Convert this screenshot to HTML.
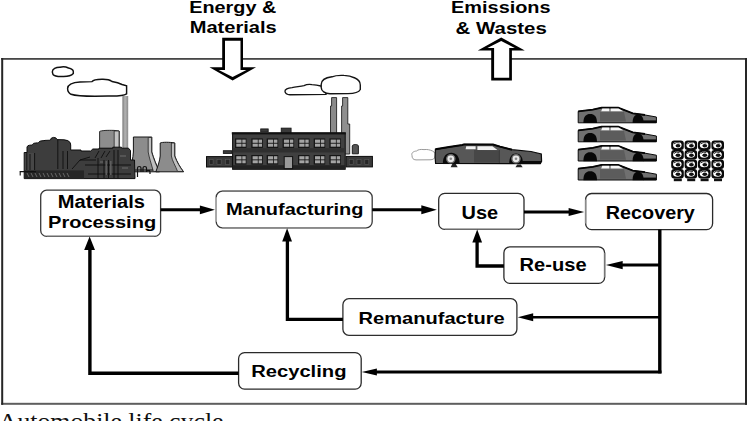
<!DOCTYPE html>
<html><head><meta charset="utf-8"><style>
html,body{margin:0;padding:0;background:#fff;width:748px;height:421px;overflow:hidden}
svg{display:block}

</style></head><body>
<svg width="748" height="421" viewBox="0 0 748 421">
<rect width="748" height="421" fill="#fff"/>
<rect x="1.2" y="58" width="745.8" height="1.8" fill="#474747"/><rect x="1.2" y="402.8" width="745.8" height="2" fill="#5e5e5e"/><rect x="1.2" y="58" width="2" height="346.8" fill="#262626"/><rect x="745" y="58" width="2" height="346.8" fill="#262626"/>
<!-- background tint regions -->
<!-- ===== industrial plant ===== -->
<g id="plant">
<path d="M52.3,72 C52.3,69 56,67.2 60,67.3 C62,66.6 66,66.8 68.5,68 C71,68.6 73.3,69.6 73.3,71.4 L73.3,73.5 C71.5,75.5 68,76.6 63,76.5 C58,76.7 54.2,76 53,74.5 Z" fill="#fff" stroke="#111" stroke-width="1.45"/>
<path d="M67.6,88.5 C67.8,84.8 73,82.4 80,82 L92,81.6 C93.5,79.5 98,79.2 103,79.3 C108,79.3 110,80 112,81.5 C116,82.2 120,83.5 122,84.5 L126.6,85.8 L126.6,93.8 C124,95.6 116,96.2 108,96 L95,96.3 C84,96.3 76,96 71,94.3 C68.5,93 67.6,91 67.6,88.5 Z" fill="#fff" stroke="#111" stroke-width="1.45"/>
<!-- chimney -->
<defs><linearGradient id="chg" x1="0" x2="1" y1="0" y2="0"><stop offset="0" stop-color="#777"/><stop offset="0.45" stop-color="#b4b4b4"/><stop offset="1" stop-color="#8a8a8a"/></linearGradient></defs>
<rect x="122.4" y="96" width="5.8" height="54" fill="url(#chg)"/>
<!-- cooling tower 1 (behind) -->
<path d="M99.6,131.5 C101,130.4 108,130.2 114,130.4 L119.2,131 L119.2,149 L99.6,149 Z" fill="#8d8d8d" stroke="#1a1a1a" stroke-width="0.9"/>
<path d="M114.2,131 L119,131 L119,149 L114.2,149 Z" fill="#c4c4c4" stroke="#1a1a1a" stroke-width="0.7"/>
<!-- cooling towers 2,3 -->
<path d="M133.4,137 L151.8,137 L151.8,152 C153.5,158 156.5,165 159.5,171.8 L129.6,171.8 C131.5,165 133,158 133.4,152 Z" fill="#8c8c8c" stroke="#141414" stroke-width="1"/>
<path d="M148.2,137.5 L151.6,137.5 L151.6,152 C153.3,158 156.2,165 159,171.5 L153.4,171.5 C151.3,164 149,157 148.2,152 Z" fill="#c0c0c0" stroke="#222" stroke-width="0.8"/>
<path d="M160.2,143 C162,142 170,142 174.8,143 L174.8,156 C177,162 180,167 183.6,171.8 L155.9,171.8 C157.5,167 159.8,161 160.2,156 Z" fill="#8c8c8c" stroke="#141414" stroke-width="1"/>
<path d="M171.4,143 L174.6,143 L174.6,156 C176.8,162 179.8,167 183.2,171.5 L177.6,171.5 C175.6,166 172.2,161 171.4,156 Z" fill="#c0c0c0" stroke="#222" stroke-width="0.8"/>
<!-- dark mass -->
<path d="M24.2,178.6 L24.2,152.5 L27,152.5 L27,147 Q27.5,145.2 29.8,145.2 Q32,145.2 32.5,144.6 Q33,143 35.5,143 Q38,143 38.7,142.4 Q39.5,140.8 42,140.8 Q44.5,140.6 45,140.4 L50.4,140.2 Q50.6,137.5 53.6,137.4 Q56.6,137.4 57,139.6 L64,139.8 Q68.5,140 70.2,142.6 L70.7,145 L70.7,150 L81,150 L81,151 L90.7,151 L92.8,149 L99,149 L99,148.2 L112.8,148.2 L112.8,147.2 L121.4,147.2 L121.4,148.2 L128.5,148.2 L130.5,150.5 L130.5,160 L134.5,160 L135,178.6 Z" fill="#3d3d3d" stroke="#0c0c0c" stroke-width="1"/>
<rect x="24.8" y="153" width="9.8" height="17" fill="#474747"/>
<!-- conveyor base -->
<rect x="24" y="170.4" width="60" height="8.4" fill="#262626"/>
<path d="M19.6,171.6 L36,171.6 M20.2,171.6 L20.2,175.5" stroke="#111" stroke-width="1.1" fill="none"/>
<path d="M27,173 l2,4 M31,173 l2,4 M35,173 l2,4 M39,173 l2,4 M43,173 l2,4 M47,173 l2,4 M51,173 l2,4 M55,173 l2,4 M59,173 l2,4 M63,173 l2,4 M67,173 l2,4" stroke="#777" stroke-width="0.8"/>
<!-- structure detail lines -->
<path d="M26.8,153 L26.8,170 M34.6,153 L34.6,170 M30,154 L30,170 M57.8,140 L57.8,169 M63,151 L63,169 M67.5,151 L67.5,169 M72,169 L80,160 L90,157 M80,160 L96,160 M98,158 L98,178 M104,160 L104,178 M108.5,160 L108.5,178 M114,150 L114,178 M118,150 L118,178 M85,165 L131,165 M88,174 L131,174 M95,158 L99,151 M101,158 L105,151 M106,157 L110,151" stroke="#0e0e0e" stroke-width="0.9" fill="none"/>
<path d="M106.3,161 v14 M110.8,161 v14 M100,162 h3 M120,156 h6 M122,168 h6" stroke="#5e5e5e" stroke-width="1.6" fill="none"/>
<path d="M137.5,177 L137.5,168 C137.5,166 141,166 141,168 L141,172 M143,172 L143,168 C143,166 146.5,166 146.5,168 L146.5,172 C146.5,170 150,170 150,172 L150,174 M135,170 L153,170" stroke="#111" stroke-width="1.2" fill="none"/>
</g>
<!-- ===== factory ===== -->
<g id="factory">
<!-- clouds -->
<path d="M285,91.5 C284.5,89 288,88 292,87.6 C296,87 300,86.2 304,85.6 C306,84.6 309,84.2 312,84.6 C316,84.8 319,85.5 322,86.2 L326,88 L326,94.4 L290,94.8 C287,94.6 285.2,93.4 285,91.5 Z" fill="#fff" stroke="#151515" stroke-width="1.4"/>
<path d="M321.2,84.5 C321.2,80 326,77.6 332,76.8 C335,75.5 340,75.2 344,75.4 C349,75.4 352,76.5 355,78 C358.5,79.5 360.3,82 360.3,85 L360.3,89.5 C359,92 355,93.6 348,93.6 L330,93.8 C325,93.6 321.2,91 321.2,87.5 Z" fill="#fff" stroke="#151515" stroke-width="1.4"/>
<!-- chimneys -->
<path d="M331.6,97.6 L336.6,97.6 L336.6,134 L330.5,134 L330.5,106 L331.6,106 Z" fill="#8a8a8a" stroke="#222" stroke-width="0.9"/>
<path d="M342.6,97.6 L347.8,97.6 L347.8,124 L349.7,124 L349.7,154 L341.6,154 L341.6,106 L342.6,106 Z" fill="#8f8f8f" stroke="#222" stroke-width="0.9"/>
<!-- roof blocks -->
<rect x="260.7" y="128.9" width="7.5" height="3" fill="#3a3a3a" stroke="#111" stroke-width="0.8"/>
<rect x="281.2" y="128.1" width="9.9" height="5.5" fill="#3a3a3a" stroke="#111" stroke-width="0.8"/>
<rect x="223.3" y="150.7" width="8.3" height="2.8" fill="#3a3a3a" stroke="#111" stroke-width="0.8"/>
<path d="M352.3,153.8 L352.3,146 C352.3,144 358.4,144 358.4,146 L358.4,153.8 Z" fill="#555" stroke="#111" stroke-width="0.9"/>
<!-- wings -->
<rect x="206.5" y="156.6" width="26.5" height="10.4" fill="#3a3a3a" stroke="#0c0c0c" stroke-width="1"/>
<rect x="346" y="156.4" width="26.4" height="10.5" fill="#3a3a3a" stroke="#0c0c0c" stroke-width="1"/>
<g fill="#262626" stroke="#5a5a5a" stroke-width="0.6">
<rect x="209.3" y="159.3" width="3.8" height="5"/><rect x="217" y="159.3" width="4.2" height="5"/><rect x="225.6" y="159.3" width="4.2" height="5"/>
<rect x="349.2" y="159.3" width="4" height="5"/><rect x="357" y="159.3" width="4" height="5"/><rect x="364.8" y="159.3" width="4" height="5"/>
</g>
<!-- main building -->
<rect x="232.6" y="133.3" width="112.6" height="36" fill="#404040" stroke="#0c0c0c" stroke-width="1"/>
<rect x="231.8" y="132.2" width="114" height="2.2" fill="#111"/>
<rect x="232.6" y="148.2" width="112.6" height="4.2" fill="#2f2f2f"/>
<rect x="232.6" y="165.2" width="112.6" height="3.8" fill="#222"/>
<!-- windows -->
<g id="win">
<rect x="235.0" y="138.4" width="11.5" height="9.6" fill="#161616"/>
<rect x="236.30" y="139.60" width="5.20" height="3.20" fill="#a4a4a4"/>
<rect x="236.30" y="143.70" width="5.20" height="3.00" fill="#a4a4a4"/>
<rect x="242.30" y="139.60" width="3.40" height="3.20" fill="#a4a4a4"/>
<rect x="242.30" y="143.70" width="3.40" height="3.00" fill="#a4a4a4"/>
<rect x="251.3" y="138.4" width="11.5" height="9.6" fill="#161616"/>
<rect x="252.60" y="139.60" width="5.20" height="3.20" fill="#a4a4a4"/>
<rect x="252.60" y="143.70" width="5.20" height="3.00" fill="#a4a4a4"/>
<rect x="258.60" y="139.60" width="3.40" height="3.20" fill="#a4a4a4"/>
<rect x="258.60" y="143.70" width="3.40" height="3.00" fill="#a4a4a4"/>
<rect x="266.7" y="138.4" width="11.5" height="9.6" fill="#161616"/>
<rect x="268.00" y="139.60" width="5.20" height="3.20" fill="#a4a4a4"/>
<rect x="268.00" y="143.70" width="5.20" height="3.00" fill="#a4a4a4"/>
<rect x="274.00" y="139.60" width="3.40" height="3.20" fill="#a4a4a4"/>
<rect x="274.00" y="143.70" width="3.40" height="3.00" fill="#a4a4a4"/>
<rect x="282.6" y="138.4" width="11.5" height="9.6" fill="#161616"/>
<rect x="283.90" y="139.60" width="5.20" height="3.20" fill="#a4a4a4"/>
<rect x="283.90" y="143.70" width="5.20" height="3.00" fill="#a4a4a4"/>
<rect x="289.90" y="139.60" width="3.40" height="3.20" fill="#a4a4a4"/>
<rect x="289.90" y="143.70" width="3.40" height="3.00" fill="#a4a4a4"/>
<rect x="298.0" y="138.4" width="11.5" height="9.6" fill="#161616"/>
<rect x="299.30" y="139.60" width="5.20" height="3.20" fill="#a4a4a4"/>
<rect x="299.30" y="143.70" width="5.20" height="3.00" fill="#a4a4a4"/>
<rect x="305.30" y="139.60" width="3.40" height="3.20" fill="#a4a4a4"/>
<rect x="305.30" y="143.70" width="3.40" height="3.00" fill="#a4a4a4"/>
<rect x="313.7" y="138.4" width="11.5" height="9.6" fill="#161616"/>
<rect x="315.00" y="139.60" width="5.20" height="3.20" fill="#a4a4a4"/>
<rect x="315.00" y="143.70" width="5.20" height="3.00" fill="#a4a4a4"/>
<rect x="321.00" y="139.60" width="3.40" height="3.20" fill="#a4a4a4"/>
<rect x="321.00" y="143.70" width="3.40" height="3.00" fill="#a4a4a4"/>
<rect x="329.4" y="138.4" width="11.5" height="9.6" fill="#161616"/>
<rect x="330.70" y="139.60" width="5.20" height="3.20" fill="#a4a4a4"/>
<rect x="330.70" y="143.70" width="5.20" height="3.00" fill="#a4a4a4"/>
<rect x="336.70" y="139.60" width="3.40" height="3.20" fill="#a4a4a4"/>
<rect x="336.70" y="143.70" width="3.40" height="3.00" fill="#a4a4a4"/>
<rect x="235.0" y="155.0" width="11.5" height="9.6" fill="#161616"/>
<rect x="236.30" y="156.20" width="5.20" height="3.20" fill="#a4a4a4"/>
<rect x="236.30" y="160.30" width="5.20" height="3.00" fill="#a4a4a4"/>
<rect x="242.30" y="156.20" width="3.40" height="3.20" fill="#a4a4a4"/>
<rect x="242.30" y="160.30" width="3.40" height="3.00" fill="#a4a4a4"/>
<rect x="251.3" y="155.0" width="11.5" height="9.6" fill="#161616"/>
<rect x="252.60" y="156.20" width="5.20" height="3.20" fill="#a4a4a4"/>
<rect x="252.60" y="160.30" width="5.20" height="3.00" fill="#a4a4a4"/>
<rect x="258.60" y="156.20" width="3.40" height="3.20" fill="#a4a4a4"/>
<rect x="258.60" y="160.30" width="3.40" height="3.00" fill="#a4a4a4"/>
<rect x="266.7" y="155.0" width="11.5" height="9.6" fill="#161616"/>
<rect x="268.00" y="156.20" width="5.20" height="3.20" fill="#a4a4a4"/>
<rect x="268.00" y="160.30" width="5.20" height="3.00" fill="#a4a4a4"/>
<rect x="274.00" y="156.20" width="3.40" height="3.20" fill="#a4a4a4"/>
<rect x="274.00" y="160.30" width="3.40" height="3.00" fill="#a4a4a4"/>
<rect x="284.2" y="156.6" width="8.4" height="12" fill="#9a9a9a" stroke="#111" stroke-width="1"/>
<rect x="298.0" y="155.0" width="11.5" height="9.6" fill="#161616"/>
<rect x="299.30" y="156.20" width="5.20" height="3.20" fill="#a4a4a4"/>
<rect x="299.30" y="160.30" width="5.20" height="3.00" fill="#a4a4a4"/>
<rect x="305.30" y="156.20" width="3.40" height="3.20" fill="#a4a4a4"/>
<rect x="305.30" y="160.30" width="3.40" height="3.00" fill="#a4a4a4"/>
<rect x="313.7" y="155.0" width="11.5" height="9.6" fill="#161616"/>
<rect x="315.00" y="156.20" width="5.20" height="3.20" fill="#a4a4a4"/>
<rect x="315.00" y="160.30" width="5.20" height="3.00" fill="#a4a4a4"/>
<rect x="321.00" y="156.20" width="3.40" height="3.20" fill="#a4a4a4"/>
<rect x="321.00" y="160.30" width="3.40" height="3.00" fill="#a4a4a4"/>
<rect x="329.4" y="155.0" width="11.5" height="9.6" fill="#161616"/>
<rect x="330.70" y="156.20" width="5.20" height="3.20" fill="#a4a4a4"/>
<rect x="330.70" y="160.30" width="5.20" height="3.00" fill="#a4a4a4"/>
<rect x="336.70" y="156.20" width="3.40" height="3.20" fill="#a4a4a4"/>
<rect x="336.70" y="160.30" width="3.40" height="3.00" fill="#a4a4a4"/>
</g>
</g>
<!-- ===== car (use) ===== -->
<g id="car">
<path d="M412,155.5 C411,153 413.5,151.2 416.5,151 C418,149.5 421,149.2 424,149.6 C427,149.2 430,149.8 432.5,151 C435,152 435.5,154.5 435,156.5 C435,158.6 433,159.8 430,159.8 L416,159.9 C413,159.8 412,158 412,155.5 Z" fill="#fff" stroke="#9a9a9a" stroke-width="1"/>
<path d="M435.4,149.3 L449,147.1 L462.3,145 L464,144.4 L493,144.5 L500,146.6 L512,149.7 L531,151.5 L541.3,153.9 L541.6,161.4 L540.3,163.6 L435.6,163.5 L435.1,157 Z" fill="#575757" stroke="#0a0a0a" stroke-width="1.2"/>
<path d="M474,150 L499,150.5 L499,162.5 L474,162.5 Z" fill="#474747"/>
<path d="M435.4,149.3 L449,147.1 L462.3,145 L464,144.4 L493,144.5 L500,146.6 L512,149.7" fill="none" stroke="#050505" stroke-width="2"/>
<path d="M466.2,146.3 L475.6,146.3 L475.6,149.3 L465.6,149.3 Z" fill="#f2f2f2"/>
<path d="M477.4,146.2 L492.4,146.2 L497.4,150 L477.4,150 Z" fill="#f2f2f2"/>
<path d="M442.8,164 C442.8,156 446.5,152.8 451.3,152.8 C456,152.8 459.6,156 459.6,164 Z" fill="#0a0a0a"/>
<path d="M509.2,164 C509.2,156.5 512,153.6 516,153.6 C520,153.6 522.9,156.5 522.9,164 Z" fill="#0a0a0a"/>
<rect x="520" y="161" width="21" height="3" fill="#0a0a0a"/>
<circle cx="450.8" cy="158.8" r="4.1" fill="#e8e8e8" stroke="#6a6a6a" stroke-width="1.4"/>
<circle cx="450.8" cy="158.8" r="1.3" fill="#888"/>
<circle cx="516" cy="158.8" r="4.1" fill="#e8e8e8" stroke="#6a6a6a" stroke-width="1.4"/>
<circle cx="516" cy="158.8" r="1.3" fill="#888"/>
<path d="M450.6,167.3 L452.3,164 L455.8,164 L457.7,167.3 Z" fill="#222"/>
<path d="M515.5,167.3 L517.2,164.4 L520.8,164.4 L522.7,167.3 Z" fill="#222"/>
<line x1="499.4" y1="150" x2="499.4" y2="163" stroke="#333" stroke-width="0.8"/>
</g>
<!-- ===== stacked cars ===== -->
<defs>
<g id="scar">
<path d="M578.2,111.4 L592.8,109.6 L601.6,107.7 L618.2,107.7 L632.8,113.4 L645,115 L656.4,117 L656.4,122.8 L578.2,122.8 Z" fill="#707070" stroke="#0a0a0a" stroke-width="1"/>
<path d="M600,112 L624,112 L626,121.5 L600,121.5 Z" fill="#5c5c5c"/>
<path d="M578.2,111.4 L592.8,109.6 L601.6,107.7 L618.2,107.7 L632.8,113.4 L645,115" fill="none" stroke="#050505" stroke-width="1.8"/>
<path d="M602.3,108.6 L609.3,108.6 L609.3,111.3 L601.2,111.3 Z" fill="#f6f6f6"/>
<path d="M610.6,108.6 L618.6,108.6 L623.2,111.3 L610.6,111.3 Z" fill="#f6f6f6"/>
<path d="M583.4,123 C583.4,116.5 586,114 590.2,114 C594.4,114 597,116.5 597,123 Z" fill="#080808"/>
<path d="M632.6,123 C632.6,117 635,114.6 638.1,114.6 C641.2,114.6 643.6,117 643.6,123 Z" fill="#080808"/>
<rect x="643" y="120.4" width="13.4" height="2.6" fill="#080808"/>
</g>
</defs>
<use href="#scar"/>
<use href="#scar" transform="translate(0,19)"/>
<use href="#scar" transform="translate(0,38.2)"/>
<use href="#scar" transform="translate(0,57.2)"/>
<!-- ===== crushed cubes ===== -->
<g id="cubes">
<rect x="671.2" y="140.6" width="12.6" height="9.3" rx="3" fill="#0a0a0a"/>
<ellipse cx="677.3" cy="145.1" rx="4.3" ry="3.2" fill="#ffffff"/>
<ellipse cx="678.0" cy="145.8" rx="2.4" ry="1.7" fill="#111"/>
<path d="M673.8,144.0 l2.5,-1.4 l3.2,0.4" fill="none" stroke="#111" stroke-width="0.9"/>
<rect x="684.6" y="140.6" width="12.6" height="9.3" rx="3" fill="#0a0a0a"/>
<ellipse cx="690.7" cy="145.1" rx="4.3" ry="3.2" fill="#ffffff"/>
<ellipse cx="691.4" cy="145.8" rx="2.4" ry="1.7" fill="#111"/>
<path d="M687.2,144.0 l2.5,-1.4 l3.2,0.4" fill="none" stroke="#111" stroke-width="0.9"/>
<rect x="698.0" y="140.6" width="12.6" height="9.3" rx="3" fill="#0a0a0a"/>
<ellipse cx="704.1" cy="145.1" rx="4.3" ry="3.2" fill="#ffffff"/>
<ellipse cx="704.8" cy="145.8" rx="2.4" ry="1.7" fill="#111"/>
<path d="M700.6,144.0 l2.5,-1.4 l3.2,0.4" fill="none" stroke="#111" stroke-width="0.9"/>
<rect x="711.4" y="140.6" width="12.6" height="9.3" rx="3" fill="#0a0a0a"/>
<ellipse cx="717.5" cy="145.1" rx="4.3" ry="3.2" fill="#ffffff"/>
<ellipse cx="718.2" cy="145.8" rx="2.4" ry="1.7" fill="#111"/>
<path d="M714.0,144.0 l2.5,-1.4 l3.2,0.4" fill="none" stroke="#111" stroke-width="0.9"/>
<rect x="671.2" y="150.1" width="12.6" height="9.3" rx="3" fill="#0a0a0a"/>
<ellipse cx="677.3" cy="154.6" rx="4.3" ry="3.2" fill="#ffffff"/>
<ellipse cx="678.0" cy="155.3" rx="2.4" ry="1.7" fill="#111"/>
<path d="M673.8,153.5 l2.5,-1.4 l3.2,0.4" fill="none" stroke="#111" stroke-width="0.9"/>
<rect x="684.6" y="150.1" width="12.6" height="9.3" rx="3" fill="#0a0a0a"/>
<ellipse cx="690.7" cy="154.6" rx="4.3" ry="3.2" fill="#ffffff"/>
<ellipse cx="691.4" cy="155.3" rx="2.4" ry="1.7" fill="#111"/>
<path d="M687.2,153.5 l2.5,-1.4 l3.2,0.4" fill="none" stroke="#111" stroke-width="0.9"/>
<rect x="698.0" y="150.1" width="12.6" height="9.3" rx="3" fill="#0a0a0a"/>
<ellipse cx="704.1" cy="154.6" rx="4.3" ry="3.2" fill="#ffffff"/>
<ellipse cx="704.8" cy="155.3" rx="2.4" ry="1.7" fill="#111"/>
<path d="M700.6,153.5 l2.5,-1.4 l3.2,0.4" fill="none" stroke="#111" stroke-width="0.9"/>
<rect x="711.4" y="150.1" width="12.6" height="9.3" rx="3" fill="#0a0a0a"/>
<ellipse cx="717.5" cy="154.6" rx="4.3" ry="3.2" fill="#ffffff"/>
<ellipse cx="718.2" cy="155.3" rx="2.4" ry="1.7" fill="#111"/>
<path d="M714.0,153.5 l2.5,-1.4 l3.2,0.4" fill="none" stroke="#111" stroke-width="0.9"/>
<rect x="671.2" y="159.6" width="12.6" height="9.3" rx="3" fill="#0a0a0a"/>
<ellipse cx="677.3" cy="164.1" rx="4.3" ry="3.2" fill="#ffffff"/>
<ellipse cx="678.0" cy="164.8" rx="2.4" ry="1.7" fill="#111"/>
<path d="M673.8,163.0 l2.5,-1.4 l3.2,0.4" fill="none" stroke="#111" stroke-width="0.9"/>
<rect x="684.6" y="159.6" width="12.6" height="9.3" rx="3" fill="#0a0a0a"/>
<ellipse cx="690.7" cy="164.1" rx="4.3" ry="3.2" fill="#ffffff"/>
<ellipse cx="691.4" cy="164.8" rx="2.4" ry="1.7" fill="#111"/>
<path d="M687.2,163.0 l2.5,-1.4 l3.2,0.4" fill="none" stroke="#111" stroke-width="0.9"/>
<rect x="698.0" y="159.6" width="12.6" height="9.3" rx="3" fill="#0a0a0a"/>
<ellipse cx="704.1" cy="164.1" rx="4.3" ry="3.2" fill="#ffffff"/>
<ellipse cx="704.8" cy="164.8" rx="2.4" ry="1.7" fill="#111"/>
<path d="M700.6,163.0 l2.5,-1.4 l3.2,0.4" fill="none" stroke="#111" stroke-width="0.9"/>
<rect x="711.4" y="159.6" width="12.6" height="9.3" rx="3" fill="#0a0a0a"/>
<ellipse cx="717.5" cy="164.1" rx="4.3" ry="3.2" fill="#ffffff"/>
<ellipse cx="718.2" cy="164.8" rx="2.4" ry="1.7" fill="#111"/>
<path d="M714.0,163.0 l2.5,-1.4 l3.2,0.4" fill="none" stroke="#111" stroke-width="0.9"/>
<rect x="671.2" y="169.1" width="12.6" height="9.3" rx="3" fill="#0a0a0a"/>
<ellipse cx="677.3" cy="173.6" rx="4.3" ry="3.2" fill="#ffffff"/>
<ellipse cx="678.0" cy="174.3" rx="2.4" ry="1.7" fill="#111"/>
<path d="M673.8,172.5 l2.5,-1.4 l3.2,0.4" fill="none" stroke="#111" stroke-width="0.9"/>
<rect x="684.6" y="169.1" width="12.6" height="9.3" rx="3" fill="#0a0a0a"/>
<ellipse cx="690.7" cy="173.6" rx="4.3" ry="3.2" fill="#ffffff"/>
<ellipse cx="691.4" cy="174.3" rx="2.4" ry="1.7" fill="#111"/>
<path d="M687.2,172.5 l2.5,-1.4 l3.2,0.4" fill="none" stroke="#111" stroke-width="0.9"/>
<rect x="698.0" y="169.1" width="12.6" height="9.3" rx="3" fill="#0a0a0a"/>
<ellipse cx="704.1" cy="173.6" rx="4.3" ry="3.2" fill="#ffffff"/>
<ellipse cx="704.8" cy="174.3" rx="2.4" ry="1.7" fill="#111"/>
<path d="M700.6,172.5 l2.5,-1.4 l3.2,0.4" fill="none" stroke="#111" stroke-width="0.9"/>
<rect x="711.4" y="169.1" width="12.6" height="9.3" rx="3" fill="#0a0a0a"/>
<ellipse cx="717.5" cy="173.6" rx="4.3" ry="3.2" fill="#ffffff"/>
<ellipse cx="718.2" cy="174.3" rx="2.4" ry="1.7" fill="#111"/>
<path d="M714.0,172.5 l2.5,-1.4 l3.2,0.4" fill="none" stroke="#111" stroke-width="0.9"/>
<rect x="673.8" y="178.6" width="8" height="2.6" fill="#111"/>
<rect x="687.2" y="178.6" width="8" height="2.6" fill="#111"/>
<rect x="700.6" y="178.6" width="8" height="2.6" fill="#111"/>
<rect x="714.0" y="178.6" width="8" height="2.6" fill="#111"/>
</g>

<rect x="40.7" y="190.2" width="119.90" height="46.20" rx="6" ry="6" fill="#fff" stroke="#383838" stroke-width="1.3"/>
<line x1="46.7" y1="236.4" x2="154.6" y2="236.4" stroke="#6a6a6a" stroke-width="1.4000000000000001"/>
<rect x="216.2" y="191.2" width="156.00" height="36.60" rx="6" ry="6" fill="#fff" stroke="#3a3a3a" stroke-width="1.3"/>
<line x1="216.2" y1="197.2" x2="216.2" y2="221.8" stroke="#b0b0b0" stroke-width="1.4000000000000001"/>
<line x1="222.2" y1="191.2" x2="366.2" y2="191.2" stroke="#7a7a7a" stroke-width="1.4000000000000001"/>
<line x1="222.2" y1="227.8" x2="366.2" y2="227.8" stroke="#8a8a8a" stroke-width="1.4000000000000001"/>
<rect x="438.7" y="193.4" width="85.30" height="36.00" rx="6" ry="6" fill="#fff" stroke="#2a2a2a" stroke-width="1.3"/>
<line x1="444.7" y1="229.4" x2="518.0" y2="229.4" stroke="#6a6a6a" stroke-width="1.4000000000000001"/>
<rect x="585.6" y="193.5" width="127.00" height="36.10" rx="6" ry="6" fill="#fff" stroke="#2a2a2a" stroke-width="1.3"/>
<line x1="585.6" y1="199.5" x2="585.6" y2="223.6" stroke="#8a8a8a" stroke-width="1.4000000000000001"/>
<rect x="503.9" y="246.8" width="100.70" height="36.60" rx="6" ry="6" fill="#fff" stroke="#2a2a2a" stroke-width="1.3"/>
<line x1="604.6" y1="252.8" x2="604.6" y2="277.4" stroke="#777" stroke-width="1.4000000000000001"/>
<rect x="342.9" y="298.7" width="174.00" height="36.60" rx="6" ry="6" fill="#fff" stroke="#2e2e2e" stroke-width="1.3"/>
<rect x="238.6" y="352.6" width="122.60" height="36.50" rx="6" ry="6" fill="#fff" stroke="#2a2a2a" stroke-width="1.3"/>
<path d="M160.6,209.8 L201,209.8" fill="none" stroke="#000" stroke-width="3.0" stroke-linejoin="miter" stroke-linecap="butt"/>
<path d="M214.90,209.80 L199.90,205.40 L199.90,214.20 Z" fill="#000"/>
<path d="M372.2,209.8 L422,209.8" fill="none" stroke="#000" stroke-width="3.0" stroke-linejoin="miter" stroke-linecap="butt"/>
<path d="M436.80,209.80 L421.30,205.30 L421.30,214.30 Z" fill="#000"/>
<path d="M524,211.9 L569,211.9" fill="none" stroke="#000" stroke-width="3.0" stroke-linejoin="miter" stroke-linecap="butt"/>
<path d="M584.20,211.90 L568.60,207.90 L568.60,215.90 Z" fill="#000"/>
<path d="M659.8,229.6 L659.8,373.4" fill="none" stroke="#000" stroke-width="3.4" stroke-linejoin="miter" stroke-linecap="butt"/>
<path d="M659.8,265.1 L621,265.1" fill="none" stroke="#000" stroke-width="3.0" stroke-linejoin="miter" stroke-linecap="butt"/>
<path d="M605.90,265.10 L622.70,261.00 L622.70,269.20 Z" fill="#000"/>
<path d="M503.9,266.0 L477.1,266.0 L477.1,241" fill="none" stroke="#000" stroke-width="3.3" stroke-linejoin="miter" stroke-linecap="butt"/>
<path d="M477.20,229.50 L472.30,242.50 L482.10,242.50 Z" fill="#000"/>
<path d="M659.8,317.2 L532,317.2" fill="none" stroke="#000" stroke-width="2.6" stroke-linejoin="miter" stroke-linecap="butt"/>
<path d="M517.70,317.20 L533.20,313.20 L533.20,321.20 Z" fill="#000"/>
<path d="M342.9,319.3 L287.4,319.3 L287.4,240" fill="none" stroke="#000" stroke-width="3.3" stroke-linejoin="miter" stroke-linecap="butt"/>
<path d="M287.10,228.20 L282.20,241.40 L292.00,241.40 Z" fill="#000"/>
<path d="M661.5,372.0 L375,372.0" fill="none" stroke="#000" stroke-width="3.0" stroke-linejoin="miter" stroke-linecap="butt"/>
<path d="M361.70,372.00 L376.90,368.40 L376.90,375.60 Z" fill="#000"/>
<path d="M238.6,373.3 L89.9,373.3 L89.9,248" fill="none" stroke="#000" stroke-width="3.4" stroke-linejoin="miter" stroke-linecap="butt"/>
<path d="M89.60,236.50 L84.20,250.00 L95.00,250.00 Z" fill="#000"/>
<path d="M222.2,37.8 L243,37.8 L243,67.3 L256,67.3 L232.6,80.4 L209.5,67.3 L222.2,67.3 Z" fill="#000"/>
<path d="M225,40.7 L240.5,40.7 L240.5,69.9 L246.4,69.9 L232.6,76.9 L218.8,69.9 L225,69.9 Z" fill="#fff"/>
<path d="M501.2,37.6 L524.8,50.4 L511.9,50.4 L511.9,80.5 L491.2,80.5 L491.2,50.4 L477.8,50.4 Z" fill="#000"/>
<path d="M501.2,41.0 L514.8,48.0 L509.2,48.0 L509.2,77.8 L494.1,77.8 L494.1,48.0 L487.4,48.0 Z" fill="#fff"/>
<text transform="translate(189.21,12.80) scale(1.2221,1)" font-family="Liberation Sans" font-weight="bold" font-size="16.23" fill="#000">Energy &amp;</text>
<text transform="translate(189.69,33.30) scale(1.2838,1)" font-family="Liberation Sans" font-weight="bold" font-size="15.65" fill="#000">Materials</text>
<text transform="translate(451.11,12.70) scale(1.2596,1)" font-family="Liberation Sans" font-weight="bold" font-size="15.80" fill="#000">Emissions</text>
<text transform="translate(455.58,34.00) scale(1.2477,1)" font-family="Liberation Sans" font-weight="bold" font-size="16.38" fill="#000">&amp; Wastes</text>
<text transform="translate(57.79,207.60) scale(1.1459,1)" font-family="Liberation Sans" font-weight="bold" font-size="17.54" fill="#000">Materials</text>
<text transform="translate(47.99,227.50) scale(1.1840,1)" font-family="Liberation Sans" font-weight="bold" font-size="16.96" fill="#000">Processing</text>
<text transform="translate(225.90,214.60) scale(1.1991,1)" font-family="Liberation Sans" font-weight="bold" font-size="16.67" fill="#000">Manufacturing</text>
<text transform="translate(461.50,218.60) scale(1.1187,1)" font-family="Liberation Sans" font-weight="bold" font-size="17.83" fill="#000">Use</text>
<text transform="translate(605.82,218.60) scale(1.0743,1)" font-family="Liberation Sans" font-weight="bold" font-size="18.41" fill="#000">Recovery</text>
<text transform="translate(519.59,271.30) scale(1.1272,1)" font-family="Liberation Sans" font-weight="bold" font-size="17.83" fill="#000">Re-use</text>
<text transform="translate(358.60,323.90) scale(1.2033,1)" font-family="Liberation Sans" font-weight="bold" font-size="16.67" fill="#000">Remanufacture</text>
<text transform="translate(251.19,377.10) scale(1.2771,1)" font-family="Liberation Sans" font-weight="bold" font-size="15.80" fill="#000">Recycling</text>
<text transform="translate(-1.20,428.50) scale(1.0833,1)" font-family="Liberation Serif" font-weight="normal" font-size="23.80" fill="#111">Automobile life cycle</text>
</svg>
</body></html>
